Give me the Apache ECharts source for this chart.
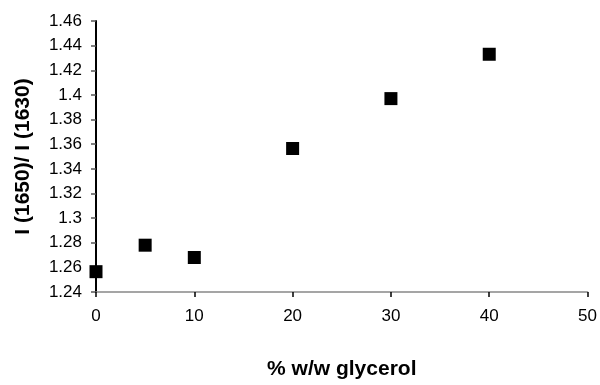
<!DOCTYPE html>
<html>
<head>
<meta charset="utf-8">
<script src="https://cdn.jsdelivr.net/npm/echarts@6/dist/echarts.min.js"></script>
<style>
  html, body { margin: 0; padding: 0; background: #fff; }
  #chart { width: 600px; height: 385px; }
</style>
</head>
<body>
<div id="chart"></div>
<script>
// % w/w glycerol
var glycerol = [0, 5, 10, 20, 30, 40];
// I(1650)/I(1630)
var ratio = [1.2565, 1.278, 1.268, 1.3565, 1.397, 1.433];

var points = glycerol.map(function (x, i) {
    return [x, ratio[i]];
});

var mchart = echarts.init(document.getElementById('chart'));
var option = {
    animation: false,
    backgroundColor: '#fff',
    grid: {
        left: 96,
        right: 12,
        top: 21,
        bottom: 75
    },
    xAxis: {
        type: 'value',
        min: 0,
        max: 50,
        interval: 10,
        name: '% w/w glycerol',
        nameLocation: 'middle',
        nameGap: 67,
        nameTextStyle: {
            fontFamily: 'Liberation Sans, Arial',
            fontWeight: 'bold',
            fontSize: 21,
            color: '#000'
        },
        axisLine: { lineStyle: { color: '#888', width: 1.5 } },
        axisTick: { inside: false, length: 5, lineStyle: { color: '#000', width: 1.5 } },
        axisLabel: {
            margin: 16,
            fontFamily: 'Liberation Sans, Arial',
            fontSize: 17,
            color: '#000'
        },
        splitLine: { show: false }
    },
    yAxis: {
        type: 'value',
        min: 1.24,
        max: 1.46,
        interval: 0.02,
        name: 'I (1650)/ I (1630)',
        nameLocation: 'middle',
        nameGap: 62,
        nameTextStyle: {
            fontFamily: 'Liberation Sans, Arial',
            fontWeight: 'bold',
            fontSize: 21,
            color: '#000'
        },
        axisLine: { lineStyle: { color: '#000', width: 2 } },
        axisTick: { length: 5, lineStyle: { color: '#555', width: 1.5 } },
        axisLabel: {
            margin: 14,
            fontFamily: 'Liberation Sans, Arial',
            fontSize: 17,
            color: '#000',
            formatter: function (v) { return String(+v.toFixed(2)); }
        },
        splitLine: { show: false }
    },
    series: [
        {
            type: 'scatter',
            symbol: 'rect',
            symbolSize: 13,
            itemStyle: { color: '#000', opacity: 1 },
            data: points
        }
    ]
};
mchart.setOption(option);
</script>
</body>
</html>
